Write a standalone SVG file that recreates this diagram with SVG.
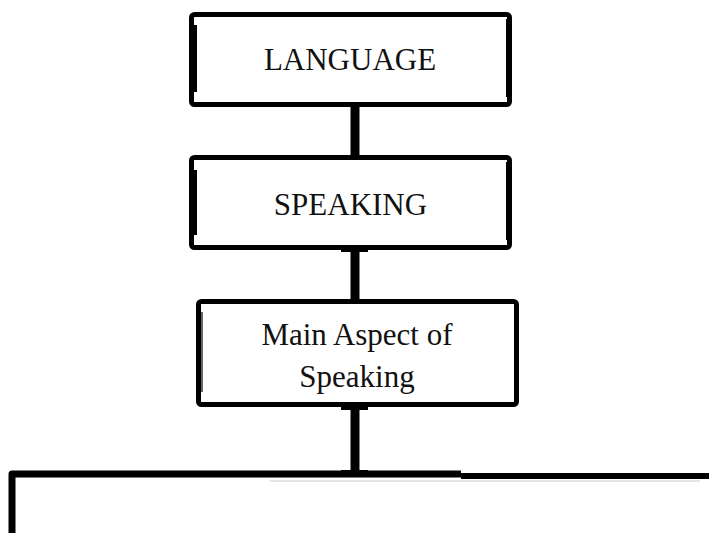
<svg xmlns="http://www.w3.org/2000/svg" width="709" height="533" viewBox="0 0 709 533">
<style>
.box{fill:#fff;stroke:#000;stroke-width:5;}
.lbl{font-family:"Liberation Serif","Times New Roman",serif;font-size:31px;fill:#111;text-anchor:middle;}
.conn{stroke:#000;stroke-width:9;fill:none;}
.cap{fill:#000;}
</style>
<rect width="709" height="533" fill="#fff"/>
<g id="connectors">
<line class="conn" x1="355" y1="107" x2="355" y2="156"/>
<line class="conn" x1="355" y1="250" x2="355" y2="300"/>
<line class="conn" x1="355" y1="407" x2="355" y2="474"/>
<rect class="cap" x="341" y="245" width="27" height="7"/>
<rect class="cap" x="341" y="300" width="27" height="7"/>
<rect class="cap" x="341" y="403" width="27" height="7"/>
<rect class="cap" x="341" y="470" width="27" height="7"/>
</g>
<g id="node-language">
<rect class="box" x="191.5" y="14.5" width="318" height="90" rx="3"/>
<rect class="cap" x="190" y="25" width="7" height="67"/>
<rect class="cap" x="506" y="19" width="6" height="78"/>
<text class="lbl" x="350" y="70">LANGUAGE</text>
</g>
<g id="node-speaking">
<rect class="box" x="191.5" y="157.5" width="318" height="90" rx="3"/>
<rect class="cap" x="190" y="170" width="7" height="65"/>
<rect class="cap" x="506" y="162" width="6" height="78"/>
<text class="lbl" x="350.5" y="215">SPEAKING</text>
</g>
<g id="node-main-aspect">
<rect class="box" x="198.5" y="301.5" width="318" height="103" rx="3"/>
<rect class="cap" x="197" y="312" width="6" height="80" fill-opacity="0.6"/>
<text class="lbl" x="357" y="345" font-size="32">Main Aspect of</text>
<text class="lbl" x="357" y="387" font-size="32">Speaking</text>
</g>
<g id="node-bottom">
<path d="M12 533 V474 H461" fill="none" stroke="#000" stroke-width="7" stroke-linejoin="round"/>
<path d="M461 476 H709" fill="none" stroke="#000" stroke-width="6"/>
<line x1="270" y1="481" x2="700" y2="481" stroke="#ccc" stroke-width="1"/>
</g>
</svg>
